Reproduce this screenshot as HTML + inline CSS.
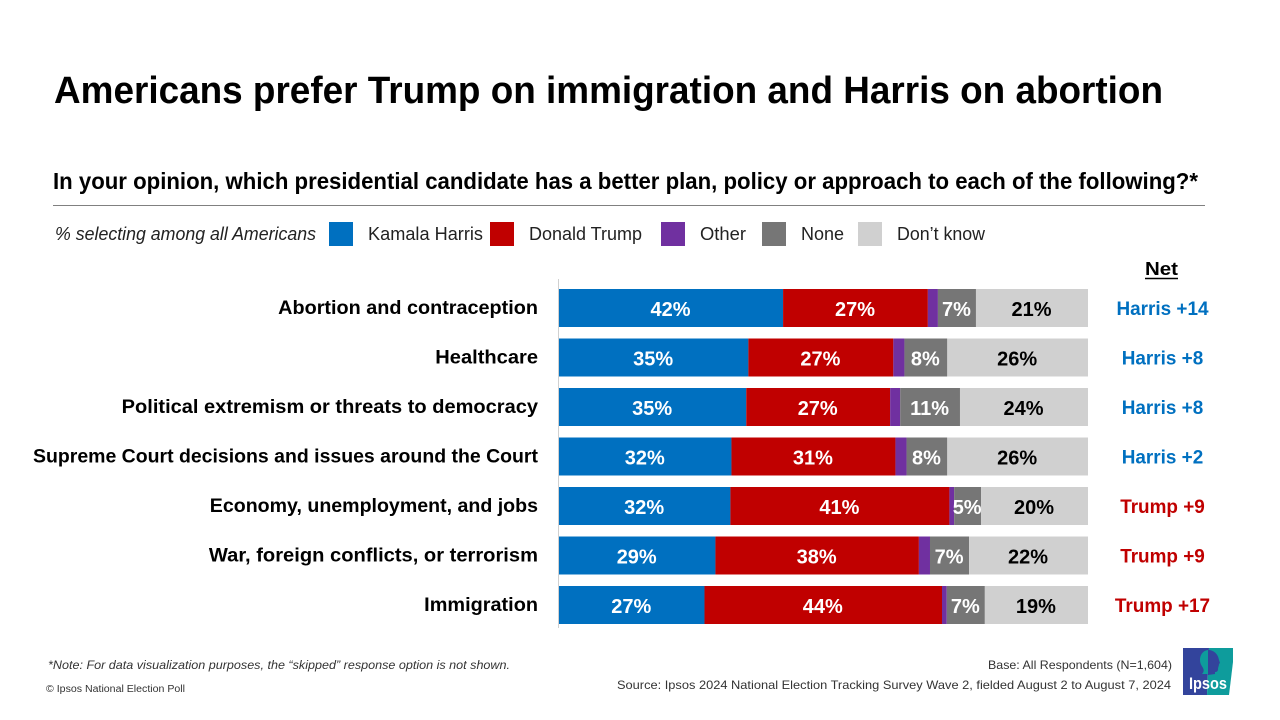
<!DOCTYPE html>
<html lang="en">
<head>
<meta charset="utf-8">
<title>Americans prefer Trump on immigration and Harris on abortion</title>
<style>
html,body{margin:0;padding:0;background:#fff;width:1280px;height:720px;overflow:hidden}
svg{display:block;font-family:"Liberation Sans",sans-serif}
text{fill:#000}
.b{font-weight:700}
.leg{font-size:18px;fill:#222}
.foot{font-size:12px;fill:#333}
</style>
</head>
<body>
<svg id="chart" xmlns="http://www.w3.org/2000/svg" width="1280" height="720" viewBox="0 0 1280 720">
  <rect x="0" y="0" width="1280" height="720" fill="#fff"/>
  <text class="b" x="54" y="103" font-size="38" textLength="1109" lengthAdjust="spacingAndGlyphs">Americans prefer Trump on immigration and Harris on abortion</text>
  <text class="b" x="53" y="189" font-size="23" textLength="1145" lengthAdjust="spacingAndGlyphs">In your opinion, which presidential candidate has a better plan, policy or approach to each of the following?*</text>
  <line x1="53" y1="205.5" x2="1205" y2="205.5" stroke="#808080" stroke-width="1"/>

  <g>
    <text class="leg" x="55" y="240" font-style="italic" textLength="261" lengthAdjust="spacingAndGlyphs">% selecting among all Americans</text>
    <rect x="329" y="222" width="24" height="24" fill="#0070C0"/>
    <text class="leg" x="368" y="240" textLength="115" lengthAdjust="spacingAndGlyphs">Kamala Harris</text>
    <rect x="490" y="222" width="24" height="24" fill="#C00000"/>
    <text class="leg" x="529" y="240" textLength="113" lengthAdjust="spacingAndGlyphs">Donald Trump</text>
    <rect x="661" y="222" width="24" height="24" fill="#7030A0"/>
    <text class="leg" x="700" y="240" textLength="46" lengthAdjust="spacingAndGlyphs">Other</text>
    <rect x="762" y="222" width="24" height="24" fill="#767676"/>
    <text class="leg" x="801" y="240" textLength="43" lengthAdjust="spacingAndGlyphs">None</text>
    <rect x="858" y="222" width="24" height="24" fill="#D0D0D0"/>
    <text class="leg" x="897" y="240" textLength="88" lengthAdjust="spacingAndGlyphs">Don’t know</text>
  </g>

  <text class="b" x="1161.5" y="275" font-size="18" text-anchor="middle" textLength="33" lengthAdjust="spacingAndGlyphs">Net</text>
  <line x1="1145" y1="278.5" x2="1178" y2="278.5" stroke="#000" stroke-width="1.4"/>

  <line x1="558.5" y1="279" x2="558.5" y2="628" stroke="#d0d0d0" stroke-width="1"/>
  <g id="marks"></g>

  <text class="foot" x="48" y="669" font-style="italic" textLength="462" lengthAdjust="spacingAndGlyphs">*Note: For data visualization purposes, the “skipped” response option is not shown.</text>
  <text x="46" y="692" font-size="10" style="fill:#333" textLength="139" lengthAdjust="spacingAndGlyphs">© Ipsos National Election Poll</text>
  <text class="foot" x="1172" y="669" text-anchor="end" textLength="184" lengthAdjust="spacingAndGlyphs">Base: All Respondents (N=1,604)</text>
  <text class="foot" x="1171" y="689" text-anchor="end" textLength="554" lengthAdjust="spacingAndGlyphs">Source: Ipsos 2024 National Election Tracking Survey Wave 2, fielded August 2 to August 7, 2024</text>

  <g>
    <polygon points="1183,648 1209,648 1207,695 1183,695" fill="#33449C"/>
    <polygon points="1209,648 1233,648 1233,662 1229,695 1207,695" fill="#0E9C9C"/>
    <path d="M1209,650c-6,0-9,5-9,10 0,4 2,6 3,8 1,2 1,4-1,6l6,0z" fill="#0E9C9C"/>
    <path d="M1208,650c6,0 10,4 11,10l1,3-1,1c0,2-1,3-1,5 0,2-1,3-3,3l0,2-7,1z" fill="#33449C"/>
    <text class="b" x="1189" y="689" font-size="17" style="fill:#fff" textLength="38" lengthAdjust="spacingAndGlyphs">Ipsos</text>
  </g>
</svg>
<script>
const categories = ["Abortion and contraception", "Healthcare", "Political extremism or threats to democracy", "Supreme Court decisions and issues around the Court", "Economy, unemployment, and jobs", "War, foreign conflicts, or terrorism", "Immigration"];
const harris = [42.4, 35.8, 35.4, 32.6, 32.4, 29.6, 27.5];
const trump = [27.4, 27.4, 27.2, 31.0, 41.4, 38.5, 44.9];
const other = [1.9, 2.1, 1.9, 2.1, 0.9, 2.1, 0.9];
const none = [7.2, 8.1, 11.3, 7.7, 5.1, 7.4, 7.2];
const dontKnow = [21.2, 26.6, 24.2, 26.6, 20.2, 22.5, 19.5];
const harrisLabels = ["42%", "35%", "35%", "32%", "32%", "29%", "27%"];
const trumpLabels = ["27%", "27%", "27%", "31%", "41%", "38%", "44%"];
const noneLabels = ["7%", "8%", "11%", "8%", "5%", "7%", "7%"];
const dontKnowLabels = ["21%", "26%", "24%", "26%", "20%", "22%", "19%"];
const netLabels = ["Harris +14", "Harris +8", "Harris +8", "Harris +2", "Trump +9", "Trump +9", "Trump +17"];

const NS = "http://www.w3.org/2000/svg";
const marks = document.getElementById("marks");
const seriesList = [
  {key: "harris", values: harris, labels: harrisLabels, fill: "#0070C0", ink: "#fff"},
  {key: "trump", values: trump, labels: trumpLabels, fill: "#C00000", ink: "#fff"},
  {key: "other", values: other, labels: null, fill: "#7030A0", ink: "#fff"},
  {key: "none", values: none, labels: noneLabels, fill: "#767676", ink: "#fff"},
  {key: "dont-know", values: dontKnow, labels: dontKnowLabels, fill: "#D0D0D0", ink: "#000"}
];
const plotLeft = 559, plotRight = 1088;
const rowTop = 289, rowStep = 49.5, barHeight = 38;
const netFitFactor = 0.97;
function xScale(pct) { return plotLeft + pct / 100 * (plotRight - plotLeft); }
function yScale(i) { return rowTop + i * rowStep; }
function fitText(el, factor) {
  const w = el.getComputedTextLength();
  el.setAttribute("textLength", (w * factor).toFixed(1));
  el.setAttribute("lengthAdjust", "spacingAndGlyphs");
}
/* Liberation Sans Bold has different proportions from the original typeface,
   so each row label gets its own small horizontal fit. */
function categoryFit(i) {
  const fits = [1.016, 1.03, 1.027, 0.998, 1.004, 1.032, 1.02];
  return fits[i] === undefined ? 1 : fits[i];
}

categories.forEach(function (cat, i) {
  const y = yScale(i);
  const cy = y + barHeight / 2;

  const catText = document.createElementNS(NS, "text");
  
  
  catText.setAttribute("x", 538);
  catText.setAttribute("y", cy + 6);
  catText.setAttribute("text-anchor", "end");
  catText.setAttribute("font-size", "19.5");
  catText.setAttribute("font-weight", "700");
  catText.textContent = cat;
  marks.appendChild(catText);
  fitText(catText, categoryFit(i));

  const total = seriesList.reduce(function (s, ser) { return s + ser.values[i]; }, 0);
  let acc = 0;
  seriesList.forEach(function (ser) {
    const v = ser.values[i];
    const x0 = xScale(acc / total * 100);
    const x1 = xScale((acc + v) / total * 100);
    acc += v;

    const r = document.createElementNS(NS, "rect");
    
    
    r.setAttribute("x", x0.toFixed(2));
    r.setAttribute("y", y);
    r.setAttribute("width", (x1 - x0).toFixed(2));
    r.setAttribute("height", barHeight);
    r.setAttribute("fill", ser.fill);
    marks.appendChild(r);

    if (ser.labels) {
      const t = document.createElementNS(NS, "text");
      
      
      t.setAttribute("x", ((x0 + x1) / 2 - 0.5).toFixed(2));
      t.setAttribute("y", cy + 8);
      t.setAttribute("text-anchor", "middle");
      t.setAttribute("font-size", "20");
      t.setAttribute("font-weight", "700");
      t.style.fill = ser.ink;
      t.textContent = ser.labels[i];
      marks.appendChild(t);
    }
  });

  const net = document.createElementNS(NS, "text");
  
  
  net.setAttribute("x", 1162.5);
  net.setAttribute("y", cy + 7);
  net.setAttribute("text-anchor", "middle");
  net.setAttribute("font-size", "19.5");
  net.setAttribute("font-weight", "700");
  net.style.fill = netLabels[i].indexOf("Harris") === 0 ? "#0070C0" : "#C00000";
  net.textContent = netLabels[i];
  marks.appendChild(net);
  fitText(net, netFitFactor);
});
</script>
</body>
</html>
